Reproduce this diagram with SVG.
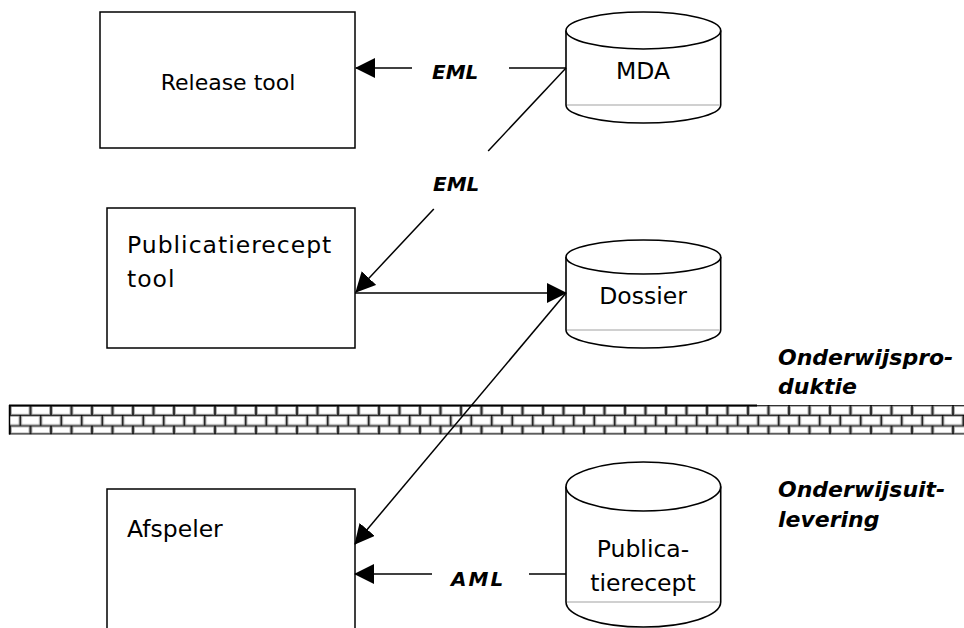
<svg xmlns="http://www.w3.org/2000/svg" width="964" height="628" viewBox="0 0 964 628">
<style>
.box{fill:#fff;stroke:#000;stroke-width:1.5}
.cyl{fill:#fff;stroke:#000;stroke-width:1.6}
.chord{stroke:#c0c0c0;stroke-width:1.5}
.t{font-family:"DejaVu Sans","Liberation Sans",sans-serif;font-size:23.5px;fill:#000}
.lbl{font-family:"DejaVu Sans","Liberation Sans",sans-serif;font-size:20px;font-weight:bold;font-style:italic;fill:#000}
.side{font-family:"DejaVu Sans","Liberation Sans",sans-serif;font-size:22px;font-weight:bold;font-style:italic;fill:#000}
.conn line{stroke:#000;stroke-width:1.5;fill:none}
</style>
<defs>
<marker id="ah" markerUnits="userSpaceOnUse" markerWidth="20" markerHeight="20" viewBox="0 0 20 20" refX="19" refY="10" orient="auto"><path d="M0,0 L20,10 L0,20 Z" fill="#000"/></marker>
<pattern id="bricks" patternUnits="userSpaceOnUse" x="10" y="405" width="20.5" height="29.5">
<rect width="20.5" height="29.5" fill="#000"/>
<g fill="#fff" stroke="#a8a8a8" stroke-width="1">
<rect x="1.2" y="1.2" width="18.1" height="8.1"/>
<rect x="11.45" y="11.2" width="18.1" height="8.6"/>
<rect x="-9.05" y="11.2" width="18.1" height="8.6"/>
<rect x="1.2" y="21.7" width="18.1" height="6.4"/>
</g>
</pattern>
<clipPath id="clipLev"><rect x="770" y="440" width="194" height="93"/></clipPath>
</defs>
<rect width="964" height="628" fill="#fff"/>

<g id="wall">
<rect x="9" y="405" width="955" height="29.5" fill="url(#bricks)"/>
<line x1="9" y1="405.5" x2="757" y2="405.5" stroke="#000" stroke-width="2"/>
<line x1="9.5" y1="405" x2="9.5" y2="434.5" stroke="#000" stroke-width="1.5"/>
</g>

<g id="release-tool">
<rect class="box" x="100" y="12" width="255" height="136"/>
<text class="t" x="228" y="90" text-anchor="middle" style="font-size:22px">Release tool</text>
</g>

<g id="publicatierecept-tool">
<rect class="box" x="107" y="208" width="248" height="140"/>
<text class="t" x="127" y="253" letter-spacing="1">Publicatierecept</text>
<text class="t" x="127" y="287" letter-spacing="1">tool</text>
</g>

<g id="afspeler">
<rect class="box" x="107" y="489" width="248" height="150"/>
<text class="t" x="127" y="537">Afspeler</text>
</g>

<g id="mda">
<path class="cyl" d="M566,30.5 V105 A77.35,18 0 0 0 720.7,105 V30.5"/>
<line class="chord" x1="567" y1="105" x2="719.7" y2="105"/>
<ellipse class="cyl" cx="643.35" cy="30.5" rx="77.35" ry="18.5"/>
<text class="t" x="643" y="79" text-anchor="middle">MDA</text>
</g>

<g id="dossier">
<path class="cyl" d="M566,257 V330 A77.35,18 0 0 0 720.7,330 V257"/>
<line class="chord" x1="567" y1="330" x2="719.7" y2="330"/>
<ellipse class="cyl" cx="643.35" cy="257" rx="77.35" ry="17"/>
<text class="t" x="643" y="304" text-anchor="middle">Dossier</text>
</g>

<g id="publicatierecept">
<path class="cyl" d="M566,486.5 V602 A77.35,25 0 0 0 720.7,602 V486.5"/>
<line class="chord" x1="567" y1="602" x2="719.7" y2="602"/>
<ellipse class="cyl" cx="643.35" cy="486.5" rx="77.35" ry="24.5"/>
<text class="t" x="643" y="557" text-anchor="middle">Publica-</text>
<text class="t" x="643" y="591" text-anchor="middle">tierecept</text>
</g>

<g id="connectors" class="conn">
<line x1="412" y1="68" x2="356" y2="68" marker-end="url(#ah)"/>
<line x1="509" y1="68" x2="566" y2="68"/>
<line x1="566" y1="68" x2="488.2" y2="151"/>
<line x1="433.8" y1="209" x2="356" y2="292" marker-end="url(#ah)"/>
<line x1="355" y1="293" x2="566" y2="293" marker-end="url(#ah)"/>
<line x1="566" y1="293" x2="355" y2="544" marker-end="url(#ah)"/>
<line x1="432" y1="574" x2="355" y2="574" marker-end="url(#ah)"/>
<line x1="529" y1="574" x2="566" y2="574"/>
</g>

<g id="labels">
<text class="lbl" x="432" y="79">EML</text>
<text class="lbl" x="433" y="191">EML</text>
<text class="lbl" x="451" y="586" letter-spacing="2">AML</text>
<text class="side" x="778" y="365">Onderwijspro-</text>
<text class="side" x="778" y="394">duktie</text>
<text class="side" x="778" y="497">Onderwijsuit-</text>
<text class="side" x="778" y="527" clip-path="url(#clipLev)">levering</text>
</g>
</svg>
